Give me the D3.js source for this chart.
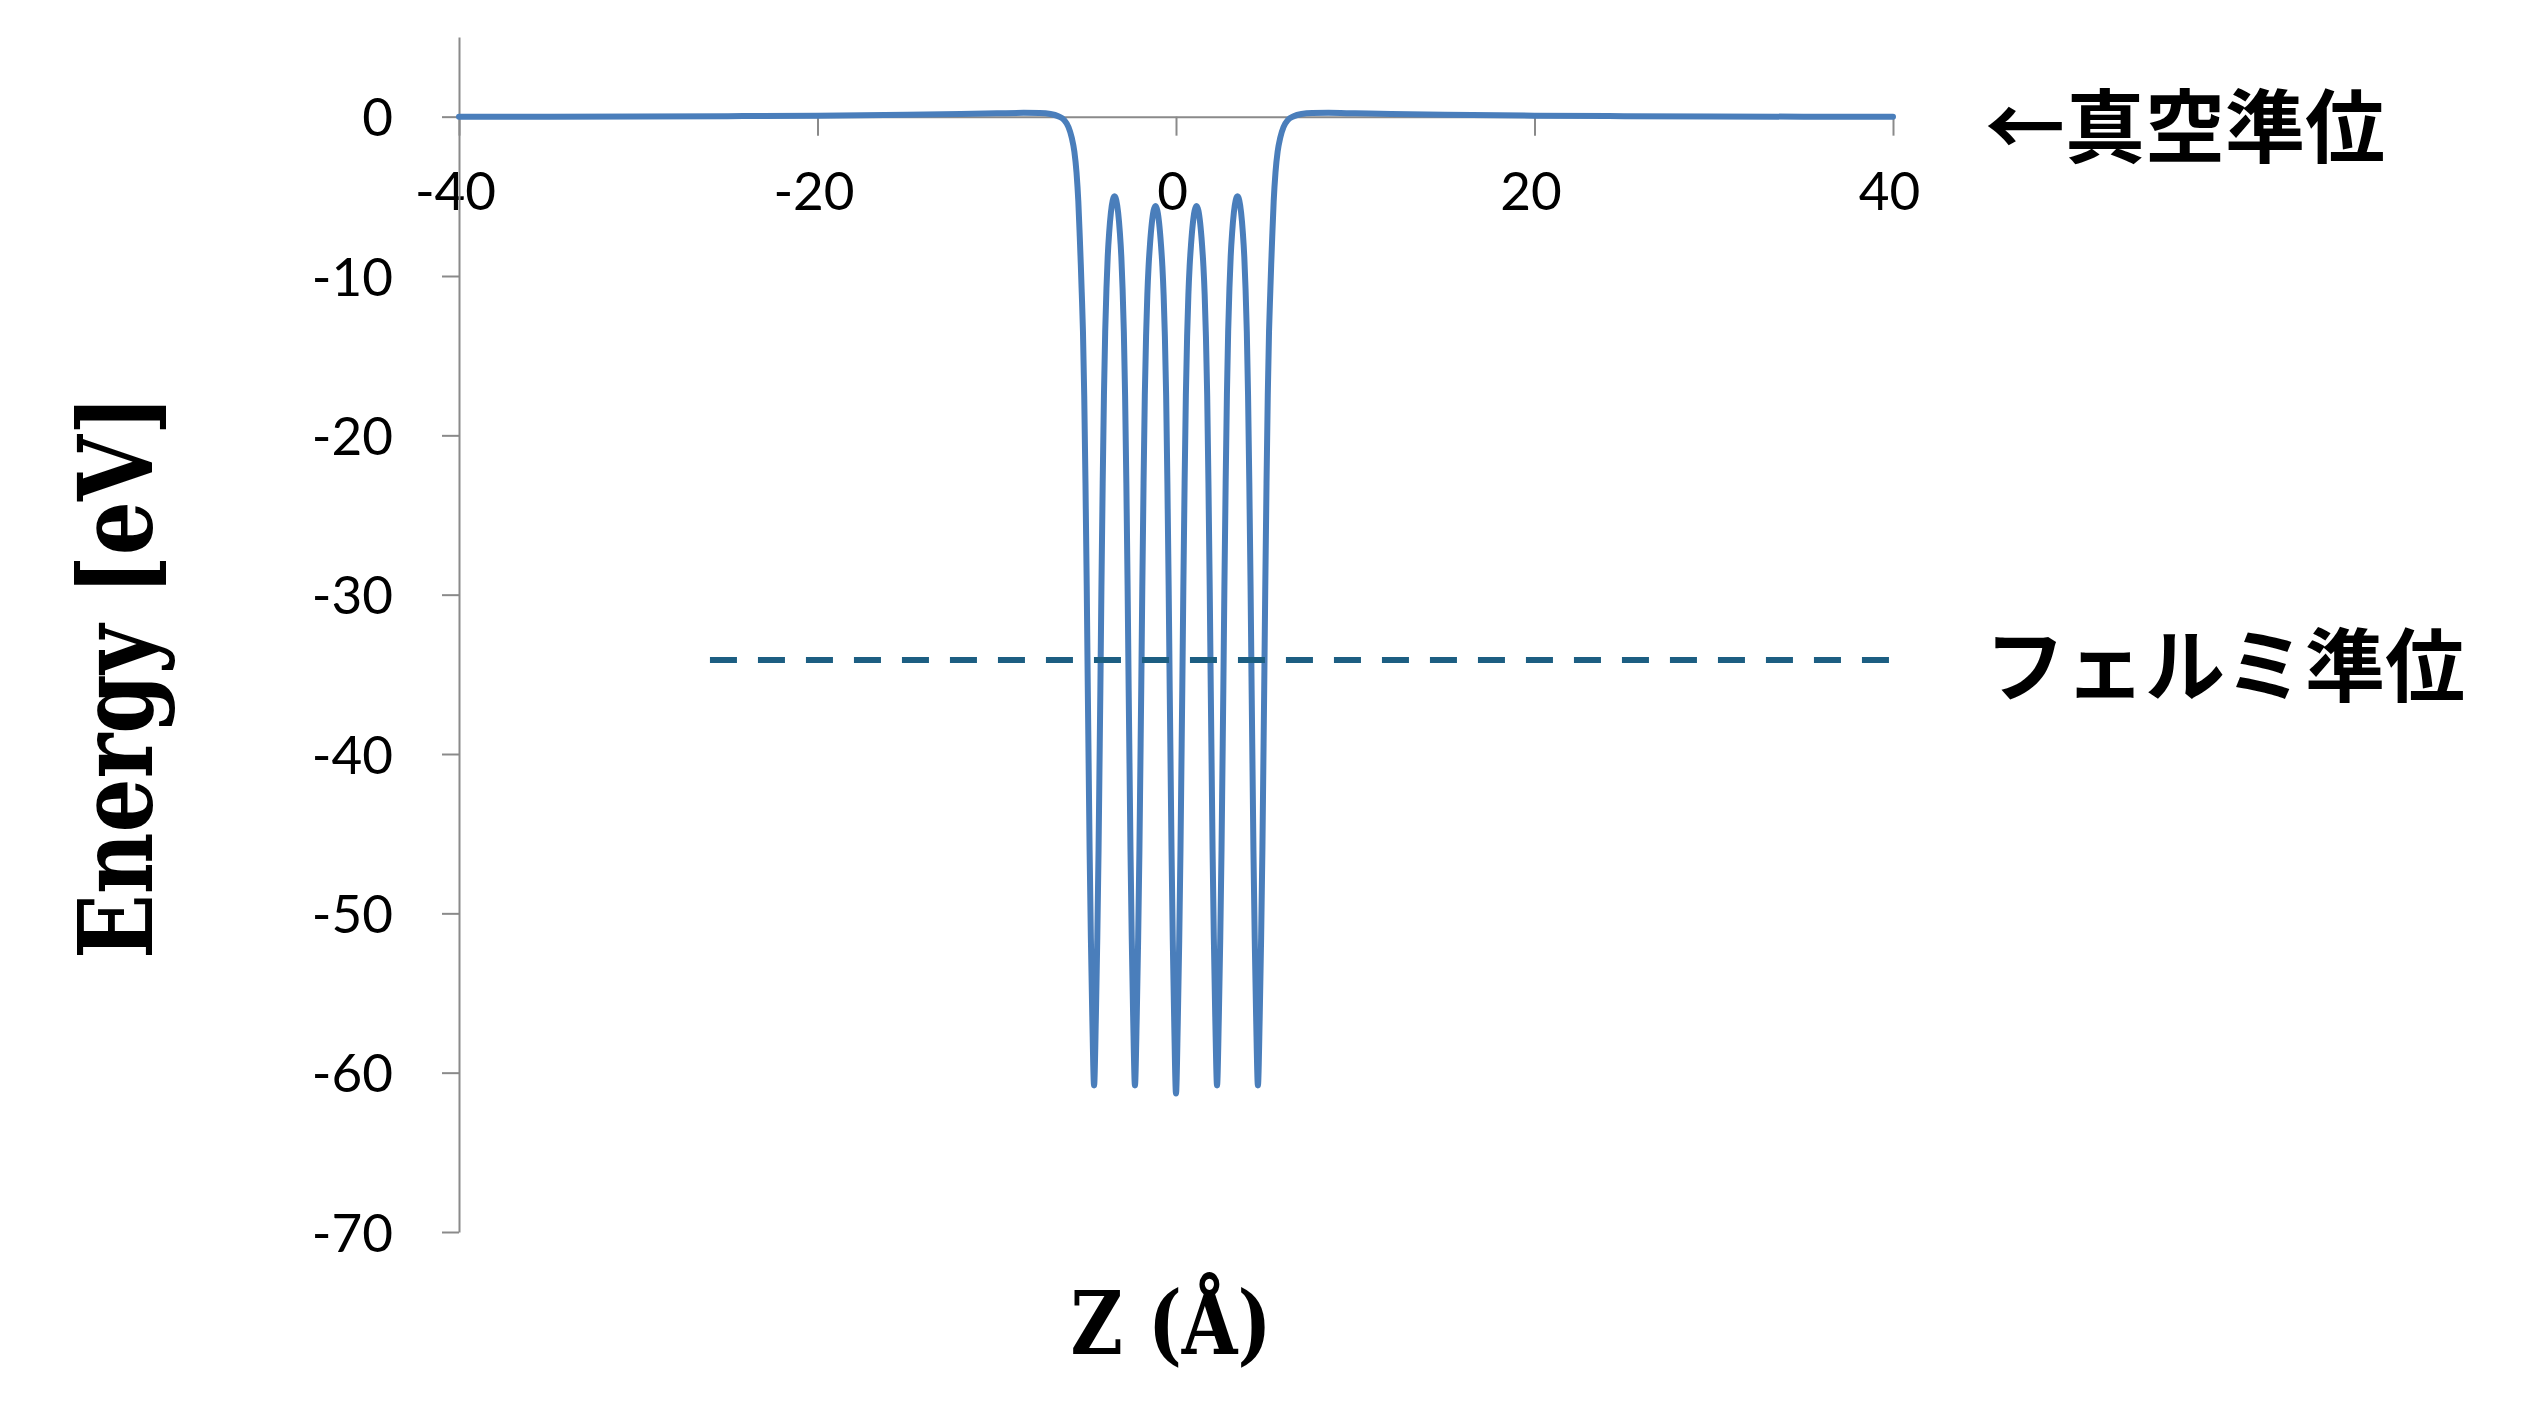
<!DOCTYPE html>
<html>
<head>
<meta charset="utf-8">
<script src="https://cdn.jsdelivr.net/npm/d3@7"></script>
<style>
  html, body { margin: 0; padding: 0; background: #ffffff; }
  svg { display: block; }
</style>
</head>
<body>
<svg id="chart" width="2525" height="1412"></svg>
<script>
// ---- data ----
const zValues = [
  -40, -35, -30, -25, -20, -15, -12, -10, -8.5, -7.6, -7.0, -6.57, -6.25, -6.0, -5.82, -5.67, -5.55, -5.45, -5.37, -5.31,
  -5.26, -5.19, -5.12, -5.05, -4.98, -4.92, -4.87, -4.82, -4.75, -4.67, -4.57,
  -4.47, -4.39, -4.32, -4.27, -4.22, -4.16, -4.09, -4.02, -3.95, -3.88, -3.81, -3.73, -3.63, -3.53, -3.43,
  -3.33, -3.23, -3.13, -3.05, -2.98, -2.91, -2.84, -2.77, -2.70, -2.64, -2.59, -2.54, -2.47, -2.39, -2.29,
  -2.19, -2.11, -2.04, -1.99, -1.94, -1.88, -1.81, -1.74, -1.67, -1.60, -1.53, -1.45, -1.35, -1.25, -1.14,
  -1.04, -0.94, -0.84, -0.76, -0.69, -0.62, -0.55, -0.48, -0.41, -0.35, -0.30, -0.25, -0.18, -0.10, 0,
  0.10, 0.18, 0.25, 0.30, 0.35, 0.41, 0.48, 0.55, 0.62, 0.69, 0.76, 0.84, 0.94, 1.04, 1.14,
  1.25, 1.35, 1.45, 1.53, 1.60, 1.67, 1.74, 1.81, 1.88, 1.94, 1.99, 2.04, 2.11, 2.19, 2.29,
  2.39, 2.47, 2.54, 2.59, 2.64, 2.70, 2.77, 2.84, 2.91, 2.98, 3.05, 3.13, 3.23, 3.33, 3.43,
  3.53, 3.63, 3.73, 3.81, 3.88, 3.95, 4.02, 4.09, 4.16, 4.22, 4.27, 4.32, 4.39, 4.47, 4.57,
  4.67, 4.75, 4.82, 4.87, 4.92, 4.98, 5.05, 5.12, 5.19, 5.26,
  5.31, 5.37, 5.45, 5.55, 5.67, 5.82, 6.0, 6.25, 6.57, 7.0, 7.6, 8.5, 10, 12, 15, 20, 25, 30, 35, 40
];
const energyValues = [
  0, 0, 0.01, 0.03, 0.06, 0.12, 0.17, 0.21, 0.24, 0.23, 0.17, 0.03, -0.2, -0.65, -1.3, -2.2, -3.5, -5.3, -7.5, -9.3,
  -11.0, -13.5, -17.5, -23, -29.5, -36, -41, -46, -51.5, -56.5, -60.8,
  -56.5, -51.5, -46, -41, -36, -29.5, -23, -17.5, -13.5, -10.8, -8.8, -7.3, -6.0, -5.25, -5.0,
  -5.25, -6.0, -7.3, -8.8, -10.8, -13.5, -17.5, -23, -29.5, -36, -41, -46, -51.5, -56.5, -60.8,
  -56.5, -51.5, -46, -41, -36, -29.5, -23, -17.5, -13.8, -11.2, -9.4, -8.0, -6.7, -5.9, -5.6,
  -5.9, -6.7, -8.0, -9.4, -11.2, -13.8, -17.5, -23, -29.5, -36, -41, -46, -51.7, -56.8, -61.3,
  -56.8, -51.7, -46, -41, -36, -29.5, -23, -17.5, -13.8, -11.2, -9.4, -8.0, -6.7, -5.9, -5.6,
  -5.9, -6.7, -8.0, -9.4, -11.2, -13.8, -17.5, -23, -29.5, -36, -41, -46, -51.5, -56.5, -60.8,
  -56.5, -51.5, -46, -41, -36, -29.5, -23, -17.5, -13.5, -10.8, -8.8, -7.3, -6.0, -5.25, -5.0,
  -5.25, -6.0, -7.3, -8.8, -10.8, -13.5, -17.5, -23, -29.5, -36, -41, -46, -51.5, -56.5, -60.8,
  -56.5, -51.5, -46, -41, -36, -29.5, -23, -17.5, -13.5, -11.0,
  -9.3, -7.5, -5.3, -3.5, -2.2, -1.3, -0.65, -0.2, 0.03, 0.17, 0.23, 0.24, 0.21, 0.17, 0.12, 0.06, 0.03, 0.01, 0, 0
];
const fermiLevel = -34.1;
const fermiRange = [-26, 40];
const xTickValues = [-40, -20, 0, 20, 40];
const xTickLabels = ["-40", "-20", "0", "20", "40"];
const yTickValues = [0, -10, -20, -30, -40, -50, -60, -70];
const yTickLabels = ["0", "-10", "-20", "-30", "-40", "-50", "-60", "-70"];
const xDomain = [-40, 40];
const yDomain = [-70, 5];
const xTitle = "Z (Å)";
const yTitle = "Energy [eV]";
const vacuumLabel = "←真空準位";
const fermiLabel = "フェルミ準位";

// ---- drawing ----
const svg = d3.select("#chart");
svg.append("rect").attr("width", 2525).attr("height", 1412).attr("fill", "#ffffff");

const x = d3.scaleLinear().domain(xDomain).range([459, 1893]);
const y = d3.scaleLinear().domain(yDomain).range([1232, 37]);

const axisColor = "#8a8a8a";
const tickFont = "Lato, 'Open Sans', sans-serif";

// x axis at y = 0
const xAxis = d3.axisBottom(x)
  .tickValues(xTickValues)
  .tickFormat((d, i) => xTickLabels[i])
  .tickSize(19)
  .tickSizeOuter(0);
const gx = svg.append("g").attr("transform", `translate(0,${y(0)})`).call(xAxis);
gx.select(".domain").attr("stroke", axisColor).attr("stroke-width", 2);
gx.selectAll(".tick line").attr("stroke", axisColor).attr("stroke-width", 2);
gx.selectAll(".tick text")
  .attr("y", 93).attr("dy", 0).attr("dx", -4)
  .attr("fill", "#000")
  .style("font-family", tickFont)
  .style("font-size", "53px");

// y axis
const yAxis = d3.axisLeft(y)
  .tickValues(yTickValues)
  .tickFormat((d, i) => yTickLabels[i])
  .tickSize(17)
  .tickSizeOuter(0);
const gy = svg.append("g").attr("transform", `translate(${x(-40)},0)`).call(yAxis);
gy.select(".domain").attr("stroke", axisColor).attr("stroke-width", 2);
gy.selectAll(".tick line").attr("stroke", axisColor).attr("stroke-width", 2);
gy.selectAll(".tick text")
  .attr("x", -66).attr("dy", "0.36em")
  .attr("fill", "#000")
  .style("font-family", tickFont)
  .style("font-size", "53px");

// potential curve
const points = zValues.map((z, i) => [z, energyValues[i]]);
const line = d3.line()
  .x(d => x(d[0]))
  .y(d => y(d[1]))
  .curve(d3.curveMonotoneX);
svg.append("path")
  .datum(points)
  .attr("d", line)
  .attr("fill", "none")
  .attr("stroke", "#4a7ebb")
  .attr("stroke-width", 6)
  .attr("stroke-linejoin", "round")
  .attr("stroke-linecap", "round");

// Fermi level dashed line
svg.append("line")
  .attr("x1", x(fermiRange[0])).attr("x2", x(fermiRange[1]))
  .attr("y1", y(fermiLevel)).attr("y2", y(fermiLevel))
  .attr("stroke", "#1c5e82")
  .attr("stroke-width", 6)
  .attr("stroke-dasharray", "27 21");

// axis titles
svg.append("text")
  .attr("x", 1171).attr("y", 1354)
  .attr("text-anchor", "middle")
  .attr("textLength", 201).attr("lengthAdjust", "spacingAndGlyphs")
  .style("font-family", "'DejaVu Serif', 'Liberation Serif', serif")
  .style("font-weight", "bold")
  .style("font-size", "88px")
  .attr("fill", "#000")
  .text(xTitle);

svg.append("text")
  .attr("transform", "translate(152,677) rotate(-90)")
  .attr("text-anchor", "middle")
  .attr("textLength", 564).attr("lengthAdjust", "spacingAndGlyphs")
  .style("font-family", "'DejaVu Serif', 'Liberation Serif', serif")
  .style("font-weight", "bold")
  .style("font-size", "102px")
  .attr("fill", "#000")
  .text(yTitle);

// annotations
const cjkFont = "'Noto Sans CJK JP', 'Noto Sans CJK SC', sans-serif";
svg.append("text")
  .attr("x", 1985).attr("y", 156)
  .style("font-family", cjkFont)
  .style("font-weight", "bold")
  .style("font-size", "80px")
  .attr("fill", "#000")
  .text(vacuumLabel);

svg.append("text")
  .attr("x", 1985).attr("y", 695)
  .style("font-family", cjkFont)
  .style("font-weight", "bold")
  .style("font-size", "80px")
  .attr("fill", "#000")
  .text(fermiLabel);
</script>
</body>
</html>
